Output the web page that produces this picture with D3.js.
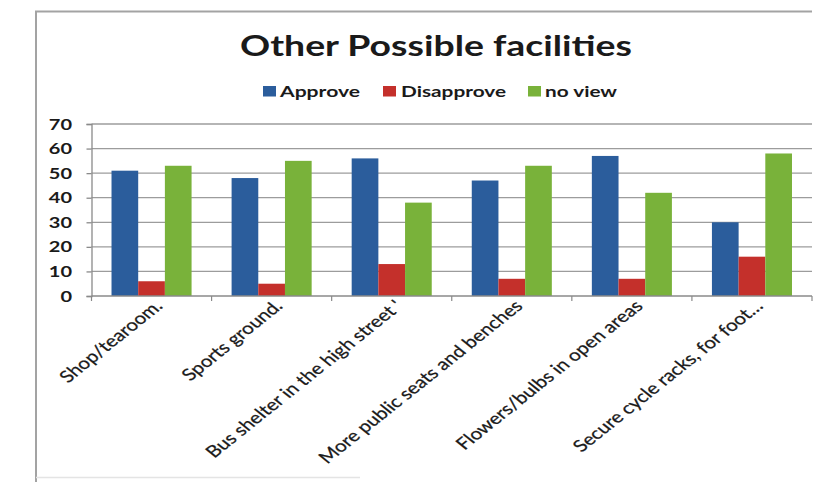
<!DOCTYPE html>
<html>
<head>
<meta charset="utf-8">
<script src="https://cdn.jsdelivr.net/npm/d3@7"></script>
<style>
  html, body { margin: 0; padding: 0; background: #fff; }
  svg { display: block; }
</style>
</head>
<body>
<svg id="chart" width="823" height="482"></svg>
<script>
// Survey responses per proposed facility
const categories = [
  "Shop/tearoom.",
  "Sports ground.",
  "Bus shelter in the high street '",
  "More public seats and benches",
  "Flowers/bulbs in open areas",
  "Secure cycle racks, for foot\u2026"
];
const seriesNames = ["Approve", "Disapprove", "no view"];
const approve    = [51, 48, 56, 47, 57, 30];
const disapprove = [6, 5, 13, 7, 7, 16];
const noView     = [53, 55, 38, 53, 42, 58];
const yTicks = [0, 10, 20, 30, 40, 50, 60, 70];
const chartTitle = "Other Possible facilities";

const colors = ["#2b5d9c", "#c4302b", "#79b23a"];
const seriesValues = [approve, disapprove, noView];

const svg = d3.select("#chart");
const W = 823, H = 482;
const plot = { left: 91.5, right: 812, top: 124, bottom: 296 };
const textColor = "#1a1a1a";
const stretch = 1.25; // horizontal glyph stretch used for the category labels

// Outer frame
svg.append("path")
  .attr("d", `M36,${H} V11.5 H812`)
  .attr("fill", "none").attr("stroke", "#a3a3a3").attr("stroke-width", 2);
svg.append("line")
  .attr("x1", 36).attr("x2", 360).attr("y1", 477.5).attr("y2", 477.5)
  .attr("stroke", "#e4e4e4").attr("stroke-width", 1.5);

// Scales
const x0 = d3.scaleBand().domain(categories).range([plot.left, plot.right]).paddingInner(0).paddingOuter(0);
const x1 = d3.scaleBand().domain(seriesNames).range([0, x0.bandwidth()]).paddingInner(0).paddingOuter(0.75);
const y = d3.scaleLinear().domain([0, 70]).range([plot.bottom, plot.top]);

// Gridlines
svg.append("g")
  .selectAll("line")
  .data(yTicks.filter(t => t > 0))
  .join("line")
  .attr("x1", plot.left).attr("x2", plot.right)
  .attr("y1", d => y(d)).attr("y2", d => y(d))
  .attr("stroke", "#9c9c9c").attr("stroke-width", 1.3);

// Bars
const rows = categories.map((c, i) => ({ c, vals: seriesNames.map((s, j) => ({ s, j, v: seriesValues[j][i] })) }));
svg.append("g")
  .selectAll("g")
  .data(rows)
  .join("g")
  .attr("transform", d => `translate(${x0(d.c)},0)`)
  .selectAll("rect")
  .data(d => d.vals)
  .join("rect")
  .attr("x", d => x1(d.s))
  .attr("width", x1.bandwidth())
  .attr("y", d => y(d.v))
  .attr("height", d => y(0) - y(d.v))
  .attr("fill", d => colors[d.j]);

// Y axis
const yAxis = svg.append("g")
  .attr("transform", `translate(${plot.left},0)`)
  .call(d3.axisLeft(y).tickValues(yTicks).tickSize(5).tickPadding(14).tickFormat(d3.format("d")));
yAxis.select(".domain").attr("stroke", "#8a8a8a").attr("stroke-width", 1.3);
yAxis.selectAll(".tick line").attr("stroke", "#8a8a8a").attr("stroke-width", 1.3);
yAxis.selectAll(".tick text")
  .attr("fill", textColor)
  .attr("font-family", "Lato, sans-serif")
  .attr("font-weight", "bold")
  .attr("font-size", 16)
  .attr("x", -19.5 / 1.25)
  .attr("transform", "scale(1.25,1)");

// X axis line and ticks at category boundaries
svg.append("line")
  .attr("x1", plot.left).attr("x2", plot.right)
  .attr("y1", plot.bottom).attr("y2", plot.bottom)
  .attr("stroke", "#8a8a8a").attr("stroke-width", 1.3);
const edges = categories.map(c => x0(c)).concat([plot.right]);
svg.append("g")
  .selectAll("line")
  .data(edges)
  .join("line")
  .attr("x1", d => d).attr("x2", d => d)
  .attr("y1", plot.bottom).attr("y2", plot.bottom + 5)
  .attr("stroke", "#8a8a8a").attr("stroke-width", 1.2);

// Rotated category labels
svg.append("g")
  .selectAll("text")
  .data(categories)
  .join("text")
  .attr("transform", d => `translate(${x0(d) + x0.bandwidth() / 2 + 7},303) scale(${stretch},1) rotate(-45)`)
  .attr("text-anchor", "end")
  .attr("dy", "0.35em")
  .attr("font-family", "Lato, sans-serif")
  .attr("font-size", 16.5)
  .attr("fill", textColor)
  .attr("stroke", textColor)
  .attr("stroke-width", 0.25)
  .text(d => d);

// Title
svg.append("text")
  .attr("x", 436).attr("y", 56)
  .attr("text-anchor", "middle")
  .attr("font-family", "Lato, sans-serif")
  .attr("font-weight", "bold")
  .attr("font-size", 29)
  .attr("fill", textColor)
  .attr("textLength", 392)
  .attr("lengthAdjust", "spacingAndGlyphs")
  .text(chartTitle);

// Legend
const legendItems = [
  { name: seriesNames[0], sx: 263, tx: 280, tw: 80 },
  { name: seriesNames[1], sx: 383, tx: 401, tw: 105 },
  { name: seriesNames[2], sx: 528, tx: 545, tw: 72 }
];
const legend = svg.append("g");
legend.selectAll("rect")
  .data(legendItems)
  .join("rect")
  .attr("x", d => d.sx).attr("y", 86)
  .attr("width", 13).attr("height", 10.5)
  .attr("fill", (d, i) => colors[i]);
legend.selectAll("text")
  .data(legendItems)
  .join("text")
  .attr("x", d => d.tx).attr("y", 97)
  .attr("font-family", "Lato, sans-serif")
  .attr("font-weight", "bold")
  .attr("font-size", 16)
  .attr("fill", textColor)
  .attr("textLength", d => d.tw)
  .attr("lengthAdjust", "spacingAndGlyphs")
  .text(d => d.name);
</script>
</body>
</html>
